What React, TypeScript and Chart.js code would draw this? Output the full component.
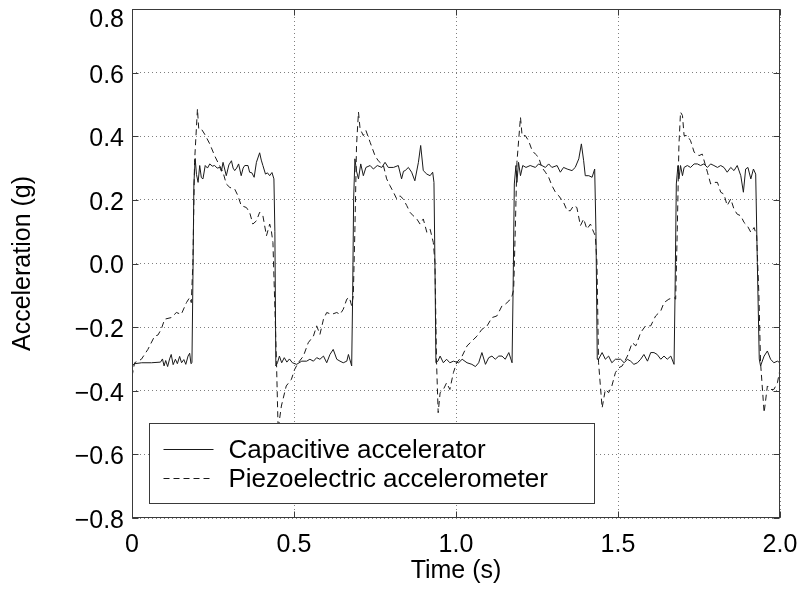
import { useEffect, useRef } from 'react';
import { Chart, registerables } from 'chart.js';

Chart.register(...registerables);

// ---- data (time in s, acceleration in g) ----
const capacitive: [number, number][] = [
  [0.000, -0.322], [0.008, -0.315], [0.030, -0.312], [0.060, -0.312], [0.088, -0.310], [0.094, -0.300],
  [0.099, -0.322], [0.104, -0.305], [0.110, -0.324], [0.116, -0.300], [0.121, -0.286], [0.127, -0.318],
  [0.134, -0.301], [0.140, -0.315], [0.147, -0.292], [0.153, -0.312], [0.160, -0.302], [0.166, -0.317],
  [0.173, -0.291], [0.178, -0.282], [0.182, -0.315], [0.185, -0.312], [0.188, -0.050], [0.191, 0.250],
  [0.195, 0.330], [0.199, 0.280], [0.204, 0.255], [0.209, 0.308], [0.214, 0.270], [0.219, 0.266],
  [0.226, 0.308], [0.233, 0.300], [0.240, 0.313], [0.248, 0.306], [0.255, 0.308], [0.263, 0.300],
  [0.271, 0.302], [0.276, 0.290], [0.281, 0.318], [0.291, 0.276], [0.299, 0.310], [0.307, 0.323],
  [0.312, 0.300], [0.317, 0.292], [0.323, 0.300], [0.329, 0.313], [0.337, 0.276], [0.343, 0.300],
  [0.348, 0.308], [0.358, 0.308], [0.363, 0.287], [0.370, 0.285], [0.377, 0.271], [0.384, 0.318],
  [0.394, 0.348], [0.399, 0.325], [0.404, 0.308], [0.412, 0.281], [0.418, 0.285], [0.425, 0.276],
  [0.432, 0.286], [0.438, 0.266], [0.441, 0.100], [0.444, -0.322], [0.449, -0.312], [0.455, -0.291],
  [0.462, -0.312], [0.470, -0.296], [0.478, -0.310], [0.486, -0.300], [0.495, -0.312],
  [0.508, -0.317], [0.524, -0.307], [0.539, -0.307], [0.549, -0.301], [0.560, -0.307], [0.570, -0.296],
  [0.580, -0.301], [0.591, -0.291], [0.601, -0.312], [0.611, -0.286], [0.621, -0.270], [0.632, -0.301],
  [0.642, -0.307], [0.652, -0.312], [0.663, -0.307], [0.668, -0.286], [0.678, -0.322], [0.681, -0.100],
  [0.684, 0.200], [0.688, 0.329], [0.693, 0.290], [0.699, 0.266], [0.706, 0.313], [0.714, 0.276],
  [0.722, 0.302], [0.735, 0.308], [0.745, 0.297], [0.757, 0.308], [0.771, 0.302], [0.781, 0.318],
  [0.791, 0.302], [0.807, 0.302], [0.822, 0.308], [0.832, 0.266], [0.838, 0.290], [0.843, 0.292],
  [0.853, 0.302], [0.863, 0.287], [0.873, 0.260], [0.884, 0.318], [0.891, 0.371], [0.899, 0.292],
  [0.910, 0.281], [0.920, 0.276], [0.928, 0.287], [0.932, 0.255], [0.935, 0.000], [0.938, -0.312],
  [0.944, -0.307], [0.951, -0.291], [0.961, -0.312], [0.971, -0.301], [0.981, -0.312], [0.992, -0.307],
  [1.008, -0.312], [1.019, -0.301], [1.034, -0.312], [1.049, -0.317], [1.060, -0.324], [1.070, -0.312],
  [1.080, -0.280], [1.091, -0.317], [1.101, -0.296], [1.111, -0.291], [1.121, -0.301], [1.132, -0.291],
  [1.142, -0.291], [1.152, -0.301], [1.163, -0.280], [1.173, -0.312], [1.176, -0.100], [1.180, 0.250],
  [1.185, 0.308], [1.188, 0.255], [1.193, 0.318], [1.199, 0.276], [1.206, 0.308], [1.216, 0.302],
  [1.229, 0.308], [1.245, 0.302], [1.255, 0.313], [1.265, 0.308], [1.276, 0.302], [1.286, 0.313],
  [1.296, 0.302], [1.312, 0.308], [1.322, 0.287], [1.332, 0.302], [1.343, 0.297], [1.358, 0.292],
  [1.368, 0.302], [1.379, 0.329], [1.387, 0.376], [1.394, 0.323], [1.399, 0.276], [1.410, 0.276],
  [1.420, 0.271], [1.428, 0.297], [1.432, 0.100], [1.436, -0.301], [1.440, -0.301], [1.451, -0.280],
  [1.461, -0.301], [1.471, -0.291], [1.481, -0.312], [1.492, -0.301],
  [1.508, -0.301], [1.519, -0.312], [1.529, -0.301], [1.539, -0.307], [1.549, -0.317], [1.560, -0.312],
  [1.570, -0.301], [1.580, -0.286], [1.591, -0.307], [1.601, -0.280], [1.611, -0.280], [1.621, -0.286],
  [1.632, -0.301], [1.642, -0.291], [1.652, -0.301], [1.663, -0.291], [1.673, -0.317], [1.676, -0.100],
  [1.680, 0.250], [1.685, 0.308], [1.688, 0.266], [1.693, 0.308], [1.699, 0.276], [1.704, 0.302],
  [1.714, 0.308], [1.724, 0.302], [1.735, 0.313], [1.745, 0.313], [1.755, 0.308], [1.765, 0.313],
  [1.776, 0.302], [1.786, 0.313], [1.796, 0.308], [1.807, 0.302], [1.817, 0.308], [1.827, 0.302],
  [1.837, 0.287], [1.848, 0.302], [1.858, 0.292], [1.868, 0.308], [1.879, 0.276], [1.887, 0.224],
  [1.894, 0.297], [1.901, 0.302], [1.910, 0.266], [1.918, 0.297], [1.925, 0.281], [1.930, 0.003],
  [1.936, -0.300], [1.940, -0.322], [1.951, -0.291], [1.961, -0.275], [1.971, -0.301], [1.981, -0.312],
  [1.992, -0.307], [2.000, -0.312],
];

const piezoelectric: [number, number][] = [
  [0.000, -0.355], [0.008, -0.312], [0.029, -0.301], [0.049, -0.270], [0.070, -0.228], [0.080, -0.225],
  [0.090, -0.207], [0.101, -0.175], [0.121, -0.170], [0.137, -0.154], [0.152, -0.160], [0.168, -0.123],
  [0.178, -0.107], [0.183, -0.123], [0.188, 0.003], [0.193, 0.318], [0.202, 0.486], [0.206, 0.423],
  [0.214, 0.423], [0.224, 0.407], [0.240, 0.376], [0.255, 0.339], [0.265, 0.318], [0.281, 0.287],
  [0.291, 0.250], [0.302, 0.239], [0.317, 0.234], [0.327, 0.213], [0.337, 0.182], [0.353, 0.176],
  [0.363, 0.161], [0.373, 0.124], [0.384, 0.134], [0.394, 0.161], [0.404, 0.150], [0.415, 0.087],
  [0.425, 0.124], [0.430, 0.103], [0.435, 0.066], [0.446, -0.312], [0.451, -0.522], [0.461, -0.448],
  [0.476, -0.385], [0.492, -0.364], [0.502, -0.333],
  [0.513, -0.312], [0.529, -0.291], [0.544, -0.249], [0.560, -0.228], [0.570, -0.196], [0.580, -0.223],
  [0.591, -0.175], [0.601, -0.154], [0.616, -0.160], [0.632, -0.154], [0.642, -0.160], [0.652, -0.144],
  [0.663, -0.112], [0.671, -0.107], [0.678, -0.133], [0.683, -0.102], [0.688, 0.108], [0.693, 0.371],
  [0.699, 0.476], [0.704, 0.423], [0.714, 0.402], [0.722, 0.418], [0.735, 0.381], [0.750, 0.339],
  [0.760, 0.323], [0.776, 0.308], [0.786, 0.266], [0.796, 0.245], [0.807, 0.224], [0.817, 0.203],
  [0.827, 0.213], [0.837, 0.203], [0.848, 0.182], [0.858, 0.161], [0.868, 0.150], [0.879, 0.140],
  [0.889, 0.124], [0.899, 0.140], [0.910, 0.098], [0.920, 0.108], [0.930, 0.066], [0.935, 0.003],
  [0.940, -0.312], [0.945, -0.469], [0.951, -0.406], [0.961, -0.396], [0.971, -0.375], [0.981, -0.396],
  [0.992, -0.343], [1.002, -0.312],
  [1.019, -0.291], [1.034, -0.259], [1.049, -0.244], [1.065, -0.228], [1.080, -0.207], [1.096, -0.196],
  [1.111, -0.170], [1.126, -0.165], [1.142, -0.133], [1.152, -0.128], [1.163, -0.118], [1.173, -0.102],
  [1.178, -0.081], [1.183, 0.108], [1.188, 0.318], [1.199, 0.460], [1.204, 0.402], [1.214, 0.402],
  [1.224, 0.386], [1.235, 0.355], [1.245, 0.344], [1.255, 0.334], [1.265, 0.302], [1.276, 0.287],
  [1.286, 0.271], [1.296, 0.245], [1.307, 0.224], [1.317, 0.213], [1.332, 0.192], [1.343, 0.166],
  [1.353, 0.166], [1.363, 0.182], [1.373, 0.176], [1.384, 0.119], [1.394, 0.140], [1.404, 0.108],
  [1.415, 0.124], [1.425, 0.098], [1.430, 0.087], [1.435, 0.003], [1.440, -0.312], [1.451, -0.454],
  [1.461, -0.396], [1.471, -0.406], [1.481, -0.385], [1.492, -0.343], [1.502, -0.328],
  [1.513, -0.322], [1.529, -0.291], [1.544, -0.249], [1.555, -0.259], [1.570, -0.217], [1.585, -0.196],
  [1.601, -0.196], [1.616, -0.165], [1.632, -0.149], [1.642, -0.123], [1.657, -0.112], [1.673, -0.107],
  [1.678, -0.112], [1.683, 0.108], [1.688, 0.371], [1.693, 0.476], [1.699, 0.465], [1.704, 0.402],
  [1.714, 0.402], [1.724, 0.386], [1.735, 0.350], [1.750, 0.339], [1.760, 0.344], [1.776, 0.287],
  [1.786, 0.250], [1.796, 0.255], [1.807, 0.255], [1.817, 0.224], [1.827, 0.218], [1.837, 0.182],
  [1.848, 0.203], [1.858, 0.171], [1.868, 0.155], [1.879, 0.150], [1.889, 0.129], [1.899, 0.119],
  [1.910, 0.098], [1.920, 0.113], [1.928, 0.087], [1.935, -0.102], [1.940, -0.312], [1.951, -0.469],
  [1.961, -0.385], [1.971, -0.396], [1.981, -0.396], [1.992, -0.375], [2.000, -0.333],
];

const seriesNames = ['Capacitive accelerator', 'Piezoelectric accelerometer'];
const xTickValues = [0, 0.5, 1.0, 1.5, 2.0];
const xTickLabels = ['0', '0.5', '1.0', '1.5', '2.0'];
const yTickValues = [-0.8, -0.6, -0.4, -0.2, 0, 0.2, 0.4, 0.6, 0.8];
const yTickLabels = ['\u22120.8', '\u22120.6', '\u22120.4', '\u22120.2', '0.0', '0.2', '0.4', '0.6', '0.8'];
const xTitle = 'Time (s)';
const yTitle = 'Acceleration (g)';

const FONT = '"Liberation Sans", Arial, Helvetica, sans-serif';
const FRAME = '#3a3a3a';
const TICK_LEN = 6;

const framePlugin = {
  id: 'frameAndLegend',
  afterDatasetsDraw(chart: any) {
    const { ctx, chartArea: a, scales } = chart;
    const L = Math.round(a.left) + 0.5;
    const R = Math.round(a.right) - 0.5;
    const T = Math.round(a.top) + 0.5;
    const B = Math.round(a.bottom) - 0.5;
    ctx.save();

    // legend box inside the axes
    const lx = L + 17, ly = B - 94, lw = 445, lh = 80;
    ctx.fillStyle = '#fff';
    ctx.fillRect(lx, ly, lw, lh);
    ctx.strokeStyle = FRAME;
    ctx.lineWidth = 1;
    ctx.setLineDash([]);
    ctx.strokeRect(lx, ly, lw, lh);
    ctx.font = `26px ${FONT}`;
    ctx.textBaseline = 'middle';
    ctx.textAlign = 'left';
    chart.data.datasets.forEach((ds: any, i: number) => {
      const yy = Math.round(ly + 25 + i * 29) + 0.5;
      ctx.strokeStyle = ds.borderColor;
      ctx.lineWidth = 1;
      ctx.setLineDash(ds.borderDash || []);
      ctx.beginPath();
      ctx.moveTo(lx + 14, yy);
      ctx.lineTo(lx + 64, yy);
      ctx.stroke();
      ctx.setLineDash([]);
      ctx.fillStyle = '#000';
      ctx.fillText(ds.label, lx + 79, yy + 1);
    });

    // axes box
    ctx.strokeStyle = FRAME;
    ctx.lineWidth = 1;
    ctx.setLineDash([]);
    ctx.strokeRect(L, T, R - L, B - T);

    // inward tick marks on all four sides
    ctx.beginPath();
    xTickValues.forEach((v) => {
      const px = Math.round(scales.x.getPixelForValue(v)) + 0.5;
      ctx.moveTo(px, B); ctx.lineTo(px, B - TICK_LEN);
      ctx.moveTo(px, T); ctx.lineTo(px, T + TICK_LEN);
    });
    yTickValues.forEach((v) => {
      const py = Math.round(scales.y.getPixelForValue(v)) + 0.5;
      ctx.moveTo(L, py); ctx.lineTo(L + TICK_LEN, py);
      ctx.moveTo(R, py); ctx.lineTo(R - TICK_LEN, py);
    });
    ctx.stroke();
    ctx.restore();
  },
};

const isTopTick = (c: any) => c && c.index === yTickValues.length - 1;

export default function App() {
  const canvasRef = useRef<HTMLCanvasElement | null>(null);

  useEffect(() => {
    const canvas = canvasRef.current;
    if (!canvas) return;
    const chart = new Chart(canvas, {
      type: 'line',
      data: {
        datasets: [
          {
            label: seriesNames[0],
            data: capacitive.map(([x, y]) => ({ x, y })),
            borderColor: '#1a1a1a',
            borderWidth: 1,
            pointRadius: 0,
            tension: 0,
            fill: false,
          },
          {
            label: seriesNames[1],
            data: piezoelectric.map(([x, y]) => ({ x, y })),
            borderColor: '#1a1a1a',
            borderWidth: 1,
            borderDash: [6, 4],
            pointRadius: 0,
            tension: 0,
            fill: false,
          },
        ],
      },
      plugins: [framePlugin],
      options: {
        animation: false,
        responsive: false,
        maintainAspectRatio: false,
        layout: { padding: { top: 9, right: 24, left: 0, bottom: 0 } },
        plugins: { legend: { display: false }, tooltip: { enabled: false } },
        scales: {
          x: {
            type: 'linear',
            min: 0,
            max: 2,
            afterBuildTicks: (s: any) => { s.ticks = xTickValues.map((value) => ({ value })); },
            afterFit: (s: any) => { s.height = 71; s.paddingLeft = 0; s.paddingRight = 0; },
            grid: { color: 'rgba(0,0,0,0.5)', lineWidth: 1, drawTicks: false },
            border: { display: false, dash: [1, 3] },
            ticks: {
              autoSkip: false,
              maxRotation: 0,
              padding: 12,
              color: '#000',
              font: { family: FONT, size: 25 },
              callback: (_v: any, i: number) => xTickLabels[i],
            },
            title: {
              display: true,
              text: xTitle,
              color: '#000',
              font: { family: FONT, size: 25 },
              padding: { top: 0, bottom: 3 },
            },
          },
          y: {
            type: 'linear',
            min: -0.8,
            max: 0.8,
            afterBuildTicks: (s: any) => { s.ticks = yTickValues.map((value) => ({ value })); },
            afterFit: (s: any) => { s.width = 132; s.paddingTop = 0; s.paddingBottom = 0; },
            grid: { color: 'rgba(0,0,0,0.5)', lineWidth: 1, drawTicks: false },
            border: { display: false, dash: [1, 3] },
            ticks: {
              autoSkip: false,
              padding: 8,
              labelOffset: 3,
              color: '#000',
              font: (c: any) =>
                isTopTick(c)
                  ? { family: FONT, size: 25, lineHeight: '16px' }
                  : { family: FONT, size: 25 },
              callback: (_v: any, i: number) =>
                i === yTickLabels.length - 1 ? ['', yTickLabels[i]] : yTickLabels[i],
            },
            title: {
              display: true,
              text: yTitle,
              color: '#000',
              font: { family: FONT, size: 25 },
              padding: { top: 8, bottom: 0 },
            },
          },
        },
      },
    });
    return () => chart.destroy();
  }, []);

  return (
    <div style={{ position: 'fixed', left: 0, top: 0, width: 804, height: 589, background: '#fff' }}>
      <canvas ref={canvasRef} width={804} height={589} style={{ display: 'block' }} />
    </div>
  );
}
